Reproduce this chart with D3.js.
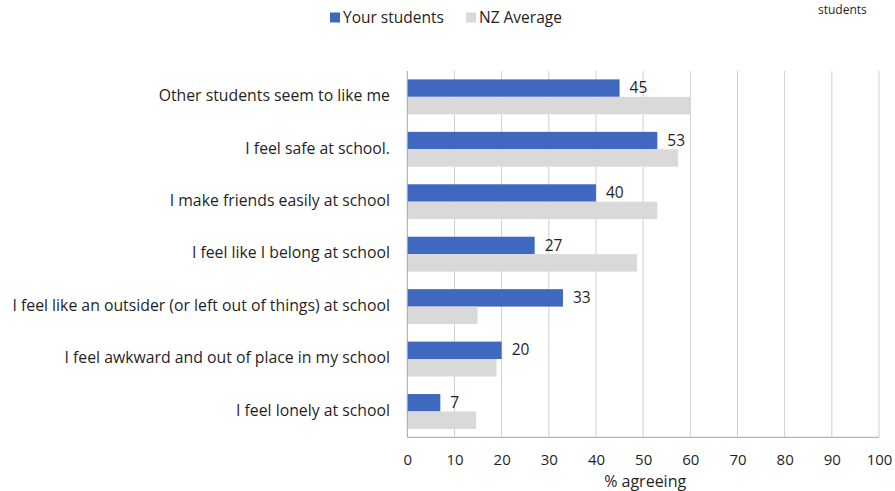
<!DOCTYPE html>
<html><head><meta charset="utf-8">
<script src="https://cdn.jsdelivr.net/npm/d3@7"></script>
<style>body{margin:0;background:#fff}svg{display:block}text{font-family:"Open Sans",Lato,sans-serif;fill:#1f1f1f}</style>
</head><body><svg id="c" width="895" height="491"></svg>
<script>
const categories = ["Other students seem to like me","I feel safe at school.","I make friends easily at school","I feel like I belong at school","I feel like an outsider (or left out of things) at school","I feel awkward and out of place in my school","I feel lonely at school"];
const yourStudents = [45,53,40,27,33,20,7];
const nzAverage = [60,57.4,53,48.7,14.9,18.9,14.6];
const seriesNames = ["Your students","NZ Average"];
const ticks = [0,10,20,30,40,50,60,70,80,90,100];
const colors = ["#4068bf","#d9d9d9"];

const svg = d3.select("#c");
const L=407.3, R=879, T=71, B=437.3;
const x = d3.scaleLinear().domain([0,100]).range([L,R]);
const y = d3.scaleBand().domain(categories).range([T,B]).paddingInner(0.335).paddingOuter(0.16);
const sub = d3.scaleBand().domain(seriesNames).range([0,y.bandwidth()]);

// gridlines
svg.append("g").selectAll("line").data(ticks.slice(1)).join("line")
  .attr("x1",d=>x(d)).attr("x2",d=>x(d)).attr("y1",T).attr("y2",B)
  .attr("stroke","#d0d0d0").attr("stroke-width",1);

const data = categories.map((c,i)=>({c, vals:[yourStudents[i],nzAverage[i]]}));
const g = svg.append("g").selectAll("g").data(data).join("g").attr("transform",d=>`translate(0,${y(d.c)})`);
g.selectAll("rect").data(d=>d.vals.map((v,j)=>({v,s:seriesNames[j],j}))).join("rect")
  .attr("x",x(0)).attr("y",d=>sub(d.s)).attr("width",d=>x(d.v)-x(0)).attr("height",sub.bandwidth())
  .attr("fill",d=>colors[d.j]);
g.append("text").attr("x",d=>x(d.vals[0])+10).attr("y",d=>sub(seriesNames[0])+sub.bandwidth()/2+1)
  .attr("dominant-baseline","middle").attr("font-size",15.5).text(d=>d.vals[0]);

// axis lines
svg.append("line").attr("x1",x(0)).attr("x2",x(0)).attr("y1",T).attr("y2",B).attr("stroke","#a6a6a6");
svg.append("line").attr("x1",x(0)).attr("x2",R).attr("y1",B).attr("y2",B).attr("stroke","#a6a6a6");

// x axis labels
const xa = svg.append("g").attr("transform",`translate(0,${B})`).call(d3.axisBottom(x).tickValues(ticks).tickSize(0).tickPadding(17));
xa.select(".domain").remove();
xa.selectAll("text").attr("font-size",15).attr("fill","#1f1f1f").style("font-family","'Open Sans',Lato,sans-serif");

// category labels, fitted so the longest spans like the reference
const cl = svg.append("g").selectAll("text").data(categories).join("text")
  .attr("x",390).attr("y",d=>y(d)+y.bandwidth()/2).attr("text-anchor","end").attr("dominant-baseline","middle")
  .attr("font-size",15).text(d=>d);
let maxW = d3.max(cl.nodes(), n=>n.getComputedTextLength());
cl.attr("font-size", 15*378/maxW);

svg.append("text").attr("x",(L+R)/2+2).attr("y",487).attr("text-anchor","middle").attr("font-size",16).text("% agreeing");

// legend
const leg = svg.append("g");
const lx=[330,466];
seriesNames.forEach((s,i)=>{
  leg.append("rect").attr("x",lx[i]).attr("y",12.5).attr("width",10).attr("height",10).attr("fill",colors[i]);
  leg.append("text").attr("x",lx[i]+13).attr("y",22.5).attr("font-size",15.5).text(s);
});
svg.append("text").attr("x",818).attr("y",14).attr("font-size",12).text("students");
</script></body></html>
